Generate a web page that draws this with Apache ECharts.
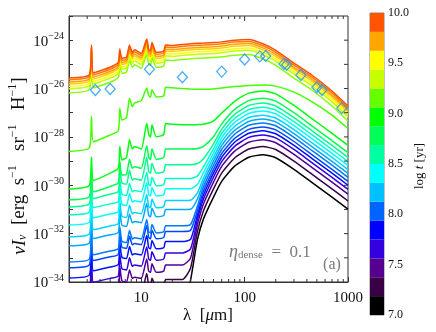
<!DOCTYPE html>
<html>
<head>
<meta charset="utf-8">
<script src="https://cdn.jsdelivr.net/npm/echarts@6/dist/echarts.min.js"></script>
<style>
  html, body { margin: 0; padding: 0; background: #fff; }
  #main { width: 436px; height: 332px; }
</style>
</head>
<body>
<div id="main"></div>
<script>
// wavelength grid (micron) shared by every model spectrum
var lambda = [2, 3.15, 3.3, 3.45, 5, 6.0, 6.2, 6.5, 7.2, 7.7, 8.2, 8.6, 10, 11.3, 11.8, 12.3, 12.7, 14, 16.5, 17.2,
  20, 25, 30, 35, 40, 50, 60, 80, 110, 150, 200, 300, 450, 700, 1000];

// log10(nu I_nu), oldest (top) to youngest (bottom)
var specT1 = [-25.56, -25.42, -24.2, -25.35, -25.12, -24.92, -24.36, -24.75, -24.7, -24.2, -24.5, -24.4, -24.55, -23.95, -24.38, -24.42, -24.1, -24.5, -24.45, -24.2,
  -24.22, -24.18, -24.15, -24.13, -24.12, -24.1, -24.07, -24.0, -23.97, -24.15, -24.42, -24.95, -25.45, -26.1, -26.72];
var specT2 = [-25.64, -25.5, -24.28, -25.43, -25.2, -25.0, -24.44, -24.83, -24.78, -24.28, -24.58, -24.48, -24.63, -24.03, -24.46, -24.5, -24.18, -24.58, -24.53, -24.28,
  -24.3, -24.26, -24.23, -24.21, -24.2, -24.18, -24.15, -24.08, -24.05, -24.23, -24.5, -25.03, -25.53, -26.18, -26.8];
var specT3 = [-25.73, -25.59, -24.37, -25.52, -25.29, -25.09, -24.53, -24.92, -24.87, -24.37, -24.67, -24.57, -24.72, -24.12, -24.55, -24.59, -24.27, -24.67, -24.62, -24.37,
  -24.39, -24.35, -24.32, -24.3, -24.29, -24.27, -24.24, -24.17, -24.14, -24.32, -24.59, -25.12, -25.62, -26.27, -26.89];
var specT4 = [-25.81, -25.67, -24.45, -25.6, -25.37, -25.17, -24.61, -25.0, -24.95, -24.45, -24.75, -24.65, -24.8, -24.2, -24.63, -24.67, -24.35, -24.75, -24.7, -24.45,
  -24.47, -24.43, -24.4, -24.38, -24.37, -24.35, -24.32, -24.25, -24.22, -24.4, -24.67, -25.2, -25.7, -26.35, -26.97];
var specT5 = [-25.91, -25.77, -24.55, -25.7, -25.47, -25.27, -24.71, -25.1, -25.05, -24.55, -24.85, -24.75, -24.9, -24.3, -24.73, -24.77, -24.45, -24.85, -24.8, -24.55,
  -24.57, -24.53, -24.5, -24.48, -24.47, -24.45, -24.42, -24.35, -24.32, -24.5, -24.77, -25.3, -25.8, -26.45, -27.07];
var specT6 = [-26.01, -25.87, -24.65, -25.8, -25.57, -25.37, -24.81, -25.2, -25.15, -24.65, -24.95, -24.85, -25.0, -24.4, -24.83, -24.87, -24.55, -24.95, -24.9, -24.65,
  -24.67, -24.63, -24.6, -24.58, -24.57, -24.55, -24.52, -24.45, -24.42, -24.6, -24.87, -25.4, -25.9, -26.55, -27.17];
var specT7 = [-26.18, -26.04, -24.82, -25.97, -25.74, -25.54, -24.98, -25.37, -25.32, -24.82, -25.12, -25.02, -25.17, -24.57, -25.0, -25.04, -24.72, -25.12, -25.07, -24.82,
  -24.84, -24.8, -24.77, -24.75, -24.74, -24.72, -24.69, -24.62, -24.59, -24.77, -25.04, -25.57, -26.07, -26.72, -27.34];
var specA = [-28.6, -28.45, -27.15, -28.2, -27.92, -27.75, -26.83, -27.3, -27.2, -26.4, -26.75, -26.6, -26.5, -25.98, -26.3, -26.35, -26.05, -26.35, -26.3, -25.95,
  -25.97, -26.0, -26.02, -26.03, -26.03, -26.02, -25.98, -25.92, -25.87, -25.85, -25.9, -26.15, -26.55, -27.1, -27.65];
var specC = [-30.15, -30.0, -28.83, -29.8, -29.5, -29.3, -28.4, -28.95, -28.85, -28.12, -28.5, -28.4, -28.5, -27.43, -27.9, -28.0, -27.5, -28.0, -27.9, -27.45,
  -27.48, -27.5, -27.5, -27.49, -27.48, -27.34, -27.02, -26.53, -26.19, -26.1, -26.22, -26.7, -27.25, -27.85, -28.35];
var specD = [-30.6, -30.47, -29.24, -30.27, -30.05, -29.9, -29.0, -29.58, -29.55, -28.93, -29.3, -29.23, -29.3, -28.37, -28.85, -28.93, -28.5, -28.93, -28.85, -28.5,
  -28.5, -28.5, -28.5, -28.48, -28.39, -27.99, -27.46, -26.86, -26.5, -26.4, -26.52, -27.0, -27.55, -28.15, -28.65];
var specE = [-30.9, -30.76, -29.45, -30.55, -30.37, -30.26, -29.3, -29.9, -29.96, -29.38, -29.79, -29.73, -29.79, -28.85, -29.44, -29.5, -29.09, -29.5, -29.44, -29.15,
  -29.15, -29.15, -29.15, -29.1, -28.9, -28.29, -27.69, -27.07, -26.7, -26.6, -26.72, -27.2, -27.75, -28.35, -28.85];
var specF = [-31.22, -31.1, -29.82, -30.92, -30.77, -30.67, -29.77, -30.37, -30.42, -29.92, -30.27, -30.22, -30.27, -29.47, -29.97, -30.02, -29.67, -30.02, -29.97, -29.72,
  -29.72, -29.72, -29.72, -29.61, -29.24, -28.49, -27.86, -27.24, -26.87, -26.77, -26.89, -27.37, -27.92, -28.52, -29.02];
var specG = [-31.64, -31.52, -30.24, -31.34, -31.19, -31.09, -30.19, -30.79, -30.84, -30.34, -30.69, -30.64, -30.69, -29.89, -30.39, -30.44, -30.09, -30.44, -30.39, -30.14,
  -30.14, -30.14, -30.14, -29.96, -29.48, -28.67, -28.03, -27.4, -27.03, -26.93, -27.05, -27.53, -28.08, -28.68, -29.18];
var specH = [-32.13, -32.01, -30.73, -31.83, -31.68, -31.58, -30.68, -31.28, -31.33, -30.83, -31.18, -31.13, -31.18, -30.38, -30.88, -30.93, -30.58, -30.93, -30.88, -30.63,
  -30.63, -30.63, -30.62, -30.31, -29.7, -28.84, -28.2, -27.57, -27.2, -27.1, -27.22, -27.7, -28.25, -28.85, -29.35];
var specI = [-32.5, -32.38, -31.1, -32.2, -32.05, -31.95, -31.05, -31.65, -31.7, -31.2, -31.55, -31.5, -31.55, -30.75, -31.25, -31.3, -30.95, -31.3, -31.25, -31.0,
  -31.0, -31.0, -30.99, -30.56, -29.88, -29.0, -28.36, -27.73, -27.36, -27.26, -27.38, -27.86, -28.41, -29.01, -29.51];
var specJ = [-33.17, -33.05, -31.77, -32.87, -32.72, -32.62, -31.72, -32.32, -32.37, -31.87, -32.22, -32.17, -32.22, -31.42, -31.92, -31.97, -31.62, -31.97, -31.92, -31.67,
  -31.67, -31.67, -31.62, -30.85, -30.06, -29.17, -28.52, -27.89, -27.52, -27.42, -27.54, -28.02, -28.57, -29.17, -29.67];
var specK = [-33.41, -33.29, -32.01, -33.11, -32.96, -32.86, -31.96, -32.56, -32.61, -32.11, -32.46, -32.41, -32.46, -31.66, -32.16, -32.21, -31.86, -32.21, -32.16, -31.91,
  -31.91, -31.91, -31.86, -31.03, -30.23, -29.34, -28.69, -28.06, -27.69, -27.59, -27.71, -28.19, -28.74, -29.34, -29.84];
var specL = [-33.83, -33.71, -32.43, -33.53, -33.38, -33.28, -32.38, -32.98, -33.03, -32.53, -32.88, -32.83, -32.88, -32.08, -32.58, -32.63, -32.28, -32.63, -32.58, -32.33,
  -32.33, -32.33, -32.24, -31.22, -30.4, -29.5, -28.85, -28.22, -27.85, -27.75, -27.87, -28.35, -28.9, -29.5, -30.0];
var specM = [-34.3, -34.18, -32.9, -34.0, -33.85, -33.75, -32.85, -33.45, -33.5, -33.0, -33.35, -33.3, -33.35, -32.55, -33.05, -33.1, -32.75, -33.1, -33.05, -32.8,
  -32.8, -32.8, -32.63, -31.4, -30.57, -29.67, -29.02, -28.39, -28.02, -27.92, -28.04, -28.52, -29.07, -29.67, -30.17];
var specN = [-34.8, -34.68, -33.4, -34.5, -34.35, -34.25, -33.35, -33.95, -34.0, -33.5, -33.85, -33.8, -33.85, -33.05, -33.55, -33.6, -33.25, -33.6, -33.55, -33.3,
  -33.3, -33.3, -33.01, -31.61, -30.77, -29.87, -29.22, -28.59, -28.22, -28.12, -28.24, -28.72, -29.27, -29.87, -30.37];
var specO = [-35.4, -35.28, -34.0, -35.1, -34.95, -34.85, -33.95, -34.55, -34.6, -34.1, -34.45, -34.4, -34.45, -33.65, -34.15, -34.2, -33.85, -34.2, -34.15, -33.9,
  -33.9, -33.9, -33.42, -31.9, -31.05, -30.15, -29.5, -28.87, -28.5, -28.4, -28.52, -29.0, -29.55, -30.15, -30.65];
var specP = [-36.8, -36.68, -35.4, -36.5, -36.35, -36.25, -35.35, -35.95, -36.0, -35.5, -35.85, -35.8, -35.85, -35.05, -35.55, -35.6, -35.25, -35.6, -35.55, -35.3,
  -35.3, -35.3, -33.92, -32.24, -31.39, -30.49, -29.84, -29.21, -28.84, -28.74, -28.86, -29.34, -29.89, -30.49, -30.99];

// drawn bottom first so the older spectra sit on top
var spectra = [specP, specO, specN, specM, specL, specK, specJ, specI, specH, specG, specF, specE, specD, specC,
  specA, specT7, specT6, specT5, specT4, specT3, specT2, specT1];
var spectraColors = ['#000000', '#380048', '#500098', '#3000e0', '#0010ff', '#0048ff', '#0078ff', '#00a8ff', '#00d4ff', '#00ffff', '#00ffc8', '#00ff90', '#00ff50', '#00ff10',
  '#44ff00', '#88ff00', '#c4ff00', '#ffff00', '#ffcc00', '#ffa200', '#ff7a00', '#ff5000'];

// observed points (diamonds)
var obsLambda = [3.6, 5.0, 12, 25, 60, 100, 140, 160, 240, 255, 350, 500, 560, 870];
var obsLog = [-26.06, -26.02, -25.2, -25.53, -25.3, -24.8, -24.67, -24.65, -24.98, -25.02, -25.44, -25.95, -26.06, -26.81];

// tick marks / labels
var xMajorTicks = [10, 100];
var xMinorTicks = [3, 4, 5, 6, 7, 8, 9, 20, 30, 40, 50, 60, 70, 80, 90, 200, 300, 400, 500, 600, 700, 800, 900];
var yTickExps = [-33, -32, -31, -30, -29, -28, -27, -26, -25, -24];
var yLabelExps = [-24, -26, -28, -30, -32, -34];

// colour bar, log t [yr]
var barEdges = [7.0, 7.1875, 7.375, 7.5625, 7.75, 7.9375, 8.125, 8.3125, 8.5, 8.6875, 8.875, 9.0625, 9.25, 9.4375, 9.625, 9.8125, 10.0];
var barColors = ['#000000', '#3a0045', '#560090', '#3500e0', '#0000ff', '#0064ff', '#00c0ff', '#00ffff', '#00ffa0', '#00ff55', '#00ff00', '#66ff00', '#c8ff00', '#ffff00', '#ffa500', '#ff5500'];

var serif = 'Liberation Serif';
var axisCol = '#333';
var chart = echarts.init(document.getElementById('main'), null, {renderer: 'canvas'});

function makeSeries() {
  var list = [];
  spectra.forEach(function (spec, k) {
    list.push({
      type: 'line',
      xAxisIndex: 0,
      yAxisIndex: 0,
      showSymbol: false,
      silent: true,
      clip: true,
      smooth: 0.2,
      lineStyle: {color: spectraColors[k], width: 1.5},
      data: lambda.map(function (l, i) { return [l, Math.pow(10, spec[i])]; })
    });
  });
  list.push({
    type: 'scatter',
    xAxisIndex: 0,
    yAxisIndex: 0,
    symbol: 'diamond',
    symbolSize: [10, 11],
    z: 10,
    itemStyle: {color: 'rgba(0,0,0,0)', borderColor: '#1e96f0', borderWidth: 1.3},
    data: obsLambda.map(function (l, i) { return [l, Math.pow(10, obsLog[i])]; })
  });
  // x ticks on the top edge (major + minor) and minor ticks on the bottom edge
  var xt = xMinorTicks.map(function (v) { return [v, 1e-30, 0]; })
    .concat(xMajorTicks.map(function (v) { return [v, 1e-30, 1]; }));
  list.push({
    type: 'custom',
    xAxisIndex: 0,
    yAxisIndex: 0,
    silent: true,
    z: 12,
    data: xt,
    renderItem: function (params, api) {
      var x = api.coord([api.value(0), api.value(1)])[0];
      var cs = params.coordSys;
      var st = {stroke: axisCol, lineWidth: 1};
      var major = api.value(2) === 1;
      var kids = [{type: 'line', shape: {x1: x, y1: cs.y, x2: x, y2: cs.y + (major ? 5 : 3)}, style: st}];
      if (!major) {
        kids.push({type: 'line', shape: {x1: x, y1: cs.y + cs.height, x2: x, y2: cs.y + cs.height - 3}, style: st});
      }
      return {type: 'group', children: kids};
    }
  });
  // y ticks on the right edge
  list.push({
    type: 'custom',
    xAxisIndex: 0,
    yAxisIndex: 0,
    silent: true,
    z: 12,
    data: yTickExps.map(function (e) { return [10, Math.pow(10, e)]; }),
    renderItem: function (params, api) {
      var y = api.coord([api.value(0), api.value(1)])[1];
      var cs = params.coordSys;
      return {
        type: 'line',
        shape: {x1: cs.x + cs.width, y1: y, x2: cs.x + cs.width - 4, y2: y},
        style: {stroke: axisCol, lineWidth: 1}
      };
    }
  });
  // y labels 10^-n
  list.push({
    type: 'custom',
    xAxisIndex: 0,
    yAxisIndex: 0,
    silent: true,
    clip: false,
    z: 12,
    data: yLabelExps.map(function (e) { return [10, Math.pow(10, e), e]; }),
    renderItem: function (params, api) {
      var y = api.coord([api.value(0), api.value(1)])[1];
      var cs = params.coordSys;
      return {
        type: 'text',
        x: cs.x - 5,
        y: y,
        style: {
          text: '{b|10}{s|\u2212' + (-api.value(2)) + '}',
          align: 'right',
          verticalAlign: 'middle',
          rich: {
            b: {fontFamily: serif, fontSize: 15, fill: '#111', lineHeight: 18, verticalAlign: 'bottom'},
            s: {fontFamily: serif, fontSize: 10, fill: '#111', lineHeight: 10, verticalAlign: 'top'}
          }
        }
      };
    }
  });
  // colour bar blocks
  list.push({
    type: 'custom',
    xAxisIndex: 1,
    yAxisIndex: 1,
    silent: true,
    data: barColors.map(function (c, i) { return [barEdges[i], barEdges[i + 1], i]; }),
    renderItem: function (params, api) {
      var p0 = api.coord([0, api.value(0)]);
      var p1 = api.coord([1, api.value(1)]);
      return {
        type: 'rect',
        shape: {x: p0[0], y: p1[1], width: p1[0] - p0[0], height: p0[1] - p1[1]},
        style: {fill: barColors[api.value(2)]}
      };
    }
  });
  return list;
}

function frameAxis(len) {
  return {
    axisLine: {show: true, onZero: false, lineStyle: {color: axisCol, width: 1}},
    axisTick: {show: true, inside: true, length: len, lineStyle: {color: axisCol}},
    splitLine: {show: false}
  };
}

var option = {
  animation: false,
  textStyle: {fontFamily: serif},
  grid: [
    {left: 69, top: 16, width: 279, height: 266, outerBoundsMode: 'none', containLabel: false,
      show: true, borderColor: axisCol, borderWidth: 1, backgroundColor: 'rgba(0,0,0,0)'},
    {left: 370, top: 13, width: 14, height: 302, outerBoundsMode: 'none', containLabel: false,
      show: true, borderColor: '#888', borderWidth: 1, backgroundColor: 'rgba(0,0,0,0)'}
  ],
  xAxis: [
    Object.assign({
      gridIndex: 0, type: 'log', logBase: 10, min: 2, max: 1000, position: 'bottom',
      axisLabel: {
        fontFamily: serif, fontSize: 15, color: '#111', margin: 9,
        formatter: function (v) {
          var e = Math.log10(v);
          return Math.abs(e - Math.round(e)) < 1e-6 ? String(Math.round(v)) : '';
        }
      }
    }, frameAxis(5)),
    {gridIndex: 1, type: 'value', min: 0, max: 1, show: false}
  ],
  yAxis: [
    Object.assign({
      gridIndex: 0, type: 'log', logBase: 10, min: 1e-34, max: 1e-23, interval: 1, position: 'left',
      axisLabel: {show: false}
    }, frameAxis(4)),
    {
      gridIndex: 1, type: 'value', min: 7, max: 10, interval: 0.5, position: 'right',
      axisLine: {show: false},
      axisTick: {show: false},
      splitLine: {show: false},
      axisLabel: {
        fontFamily: serif, fontSize: 12, color: '#111', margin: 4,
        formatter: function (v) { return v.toFixed(1); }
      }
    }
  ],
  graphic: [
    {
      type: 'text', x: 18, y: 166, rotation: Math.PI / 2,
      style: {
        text: '{i|\u03bdI}{sub|\u03bd}{n|  [erg  s}{sup|\u22121}{n|   sr}{sup|\u22121}{n|   H}{sup|\u22121}{n|]}',
        align: 'center', verticalAlign: 'middle',
        rich: {
          i: {fontFamily: serif, fontSize: 19, fontStyle: 'italic', fill: '#111', lineHeight: 22, verticalAlign: 'bottom'},
          n: {fontFamily: serif, fontSize: 19, fill: '#111', lineHeight: 22, verticalAlign: 'bottom'},
          sub: {fontFamily: serif, fontSize: 12, fontStyle: 'italic', fill: '#111', lineHeight: 12, verticalAlign: 'bottom'},
          sup: {fontFamily: serif, fontSize: 12, fill: '#111', lineHeight: 12, verticalAlign: 'top'}
        }
      }
    },
    {
      type: 'text', x: 208, y: 316,
      style: {
        text: '{n|\u03bb  [}{i|\u03bc}{n|m]}',
        align: 'center', verticalAlign: 'middle',
        rich: {
          n: {fontFamily: serif, fontSize: 17, fill: '#111'},
          i: {fontFamily: serif, fontSize: 17, fontStyle: 'italic', fill: '#111'}
        }
      }
    },
    {
      type: 'text', x: 229, y: 251,
      style: {
        text: '{e|\u03b7}{sub|dense}{n|  =  0.1}',
        align: 'left', verticalAlign: 'middle',
        rich: {
          e: {fontFamily: serif, fontSize: 18, fontStyle: 'italic', fill: '#7a7a7a', lineHeight: 20, verticalAlign: 'bottom'},
          sub: {fontFamily: serif, fontSize: 11, fill: '#7a7a7a', lineHeight: 11, verticalAlign: 'bottom'},
          n: {fontFamily: serif, fontSize: 17, fill: '#7a7a7a', lineHeight: 20, verticalAlign: 'bottom'}
        }
      }
    },
    {
      type: 'text', x: 332, y: 265,
      style: {text: '(a)', fontFamily: serif, fontSize: 16, fill: '#7a7a7a', align: 'center', verticalAlign: 'middle'}
    },
    {
      type: 'text', x: 420, y: 166, rotation: Math.PI / 2,
      style: {
        text: '{n|log }{i|t}{n| [yr]}',
        align: 'center', verticalAlign: 'middle',
        rich: {
          n: {fontFamily: serif, fontSize: 13, fill: '#111'},
          i: {fontFamily: serif, fontSize: 13, fontStyle: 'italic', fill: '#111'}
        }
      }
    }
  ],
  series: makeSeries()
};

chart.setOption(option);
</script>
</body>
</html>
